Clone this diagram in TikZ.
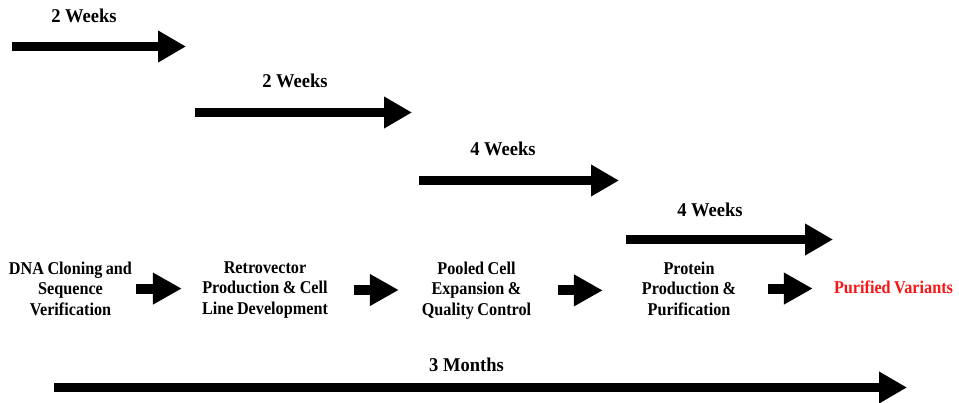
\documentclass[tikz,border=0pt]{standalone}
\usepackage{fontspec}
\usepackage{tikz}
\usepackage{xcolor}
\usetikzlibrary{arrows.meta,positioning}
\setmainfont{Liberation Serif}
\newfontfamily\stepfont{Liberation Serif}[FakeStretch=0.9,WordSpace=0.85]
\newfontfamily\labelfont{Liberation Serif}[FakeStretch=0.95]
\definecolor{variantred}{RGB}{250,20,20}

\begin{document}
\begin{tikzpicture}[x=1pt,y=-1pt,
  stepbox/.style={minimum width=130pt,align=center,inner sep=0pt,font=\stepfont\bfseries\fontsize{18}{20.5}\selectfont},
  spanlabel/.style={anchor=base,inner sep=0pt,font=\labelfont\bfseries\fontsize{19.5}{21}\selectfont},
  flow/.style={line width=10pt,-{Triangle[length=29pt,width=30pt]}},
  span/.style={line width=9pt,-{Triangle[length=28pt,width=30pt]}}]
  \useasboundingbox (0,0) rectangle (959,403);

  % steps
  \node[stepbox,anchor=north] (dna) at (70.5,261.5) {DNA Cloning and\\Sequence\\Verification};
  \node[stepbox,anchor=north] (retro) at (265,261.5) {Retrovector\\Production \& Cell\\Line Development};
  \node[stepbox,anchor=north] (pooled) at (476.5,261.5) {Pooled Cell\\Expansion \&\\Quality Control};
  \node[stepbox,anchor=north] (protein) at (689,261.5) {Protein\\Production \&\\Purification};
  \node[stepbox,anchor=base,text=variantred] (purified) at (893.5,294) {Purified Variants};

  \draw[flow, shorten <=0.5pt, shorten >=18pt] (dna.east) -- (dna.east -| retro.west);
  \draw[flow, shorten <=24pt, shorten >=12.5pt] (retro.east) -- (retro.east -| pooled.west);
  \draw[flow, shorten <=16.5pt, shorten >=21pt] (pooled.east) -- (pooled.east -| protein.west);
  \draw[flow, shorten <=14pt, shorten >=15.5pt] (protein.east) -- (protein.east -| purified.west);

  % durations
  \coordinate (w1a) at (12,46.5);   \coordinate (w1b) at (186,46.5);
  \coordinate (w2a) at (195,112.5); \coordinate (w2b) at (412,112.5);
  \coordinate (w3a) at (419,180.5); \coordinate (w3b) at (619,180.5);
  \coordinate (w4a) at (626,239.5); \coordinate (w4b) at (833,239.5);
  \coordinate (m3a) at (54,387.5);  \coordinate (m3b) at (907,387.5);

  \draw[span] (w1a) -- (w1b);
  \draw[span] (w2a) -- (w2b);
  \draw[span] (w3a) -- (w3b);
  \draw[span] (w4a) -- (w4b);
  \draw[span] (m3a) -- (m3b);

  \node[spanlabel] (lab1) at (84,23) {2 Weeks};
  \node[spanlabel] (lab2) at (295,88) {2 Weeks};
  \node[spanlabel] (lab3) at (503,156) {4 Weeks};
  \node[spanlabel] (lab4) at (710,217) {4 Weeks};
  \node[spanlabel] (lab5) at (466.5,372) {3 Months};
\end{tikzpicture}
\end{document}
